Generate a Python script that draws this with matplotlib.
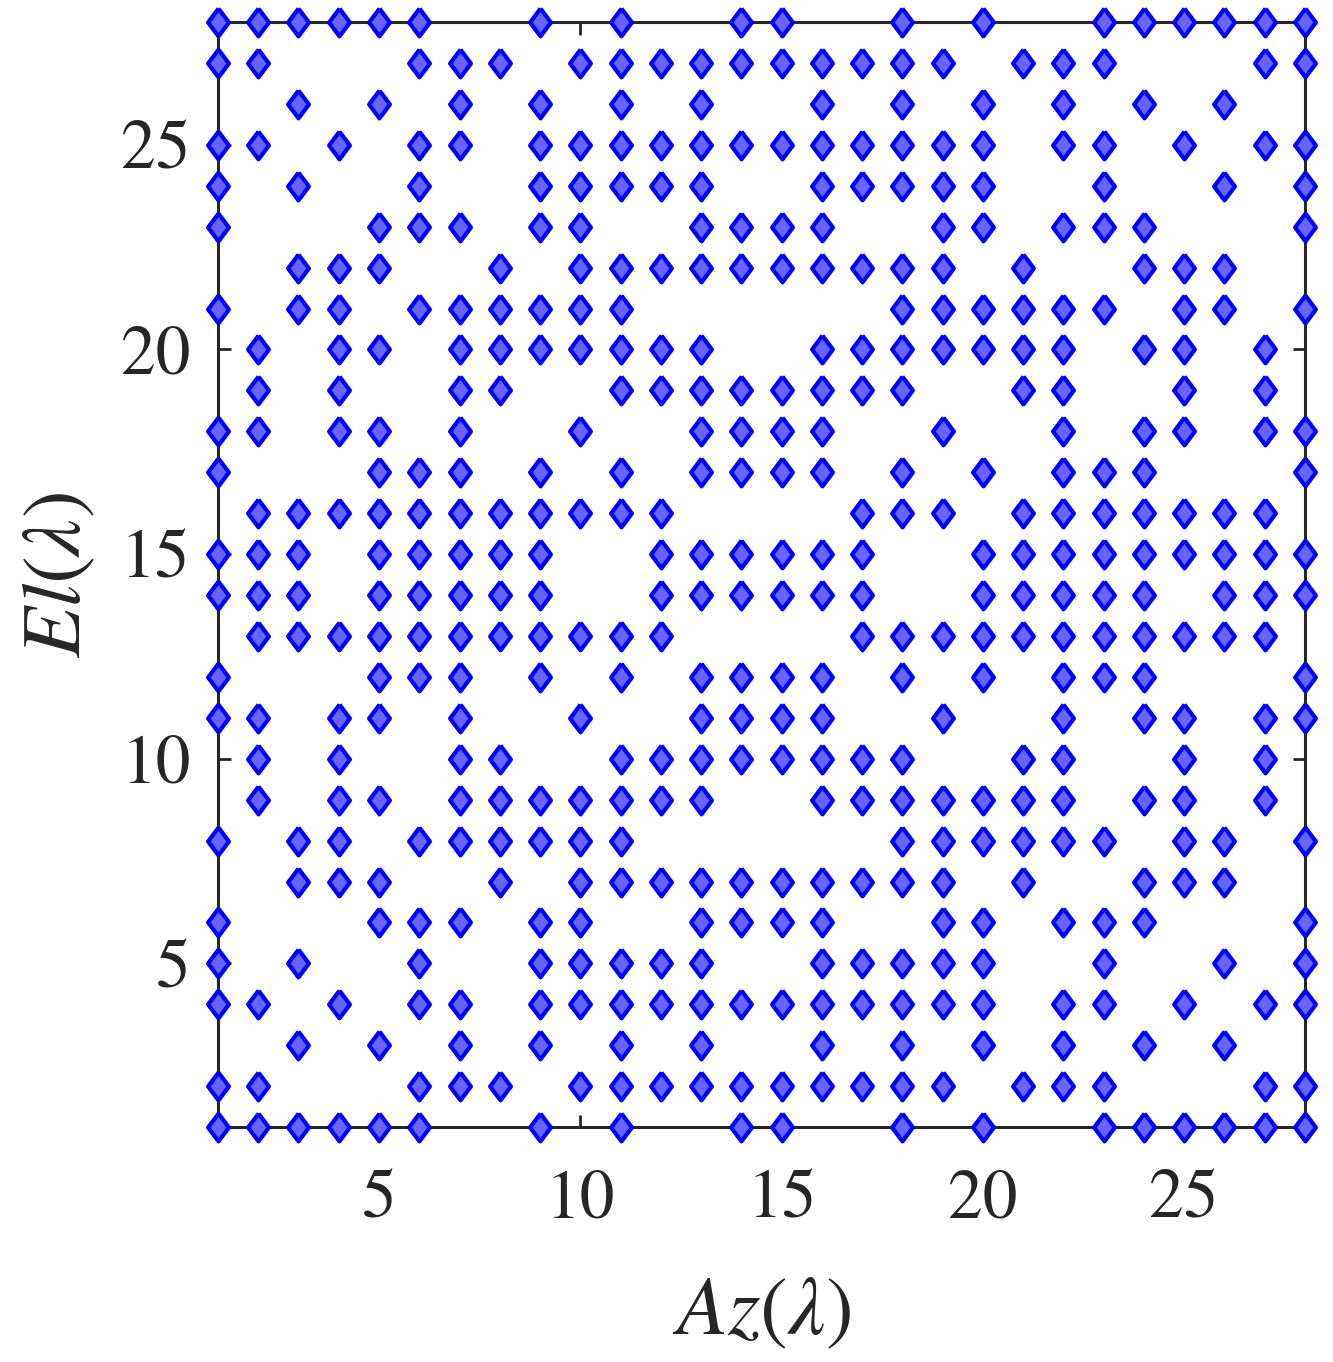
import matplotlib
matplotlib.use("Agg")
import matplotlib.pyplot as plt

# active element positions per elevation row: El -> list of Az indices
el_rows = {
    28: [1, 2, 3, 4, 5, 6, 9, 11, 14, 15, 18, 20, 23, 24, 25, 26, 27, 28],
    27: [1, 2, 6, 7, 8, 10, 11, 12, 13, 14, 15, 16, 17, 18, 19, 21, 22, 23, 27, 28],
    26: [3, 5, 7, 9, 11, 13, 16, 18, 20, 22, 24, 26],
    25: [1, 2, 4, 6, 7, 9, 10, 11, 12, 13, 14, 15, 16, 17, 18, 19, 20, 22, 23, 25, 27, 28],
    24: [1, 3, 6, 9, 10, 11, 12, 13, 16, 17, 18, 19, 20, 23, 26, 28],
    23: [1, 5, 6, 7, 9, 10, 13, 14, 15, 16, 19, 20, 22, 23, 24, 28],
    22: [3, 4, 5, 8, 10, 11, 12, 13, 14, 15, 16, 17, 18, 19, 21, 24, 25, 26],
    21: [1, 3, 4, 6, 7, 8, 9, 10, 11, 18, 19, 20, 21, 22, 23, 25, 26, 28],
    20: [2, 4, 5, 7, 8, 9, 10, 11, 12, 13, 16, 17, 18, 19, 20, 21, 22, 24, 25, 27],
    19: [2, 4, 7, 8, 11, 12, 13, 14, 15, 16, 17, 18, 21, 22, 25, 27],
    18: [1, 2, 4, 5, 7, 10, 13, 14, 15, 16, 19, 22, 24, 25, 27, 28],
    17: [1, 5, 6, 7, 9, 11, 13, 14, 15, 16, 18, 20, 22, 23, 24, 28],
    16: [2, 3, 4, 5, 6, 7, 8, 9, 10, 11, 12, 17, 18, 19, 21, 22, 23, 24, 25, 26, 27],
    15: [1, 2, 3, 5, 6, 7, 8, 9, 12, 13, 14, 15, 16, 17, 20, 21, 22, 23, 24, 25, 26, 27, 28],
    14: [1, 2, 3, 5, 6, 7, 8, 9, 12, 13, 14, 15, 16, 17, 20, 21, 22, 23, 24, 26, 27, 28],
    13: [2, 3, 4, 5, 6, 7, 8, 9, 10, 11, 12, 17, 18, 19, 20, 21, 22, 23, 24, 25, 26, 27],
    12: [1, 5, 6, 7, 9, 11, 13, 14, 15, 16, 18, 20, 22, 23, 24, 28],
    11: [1, 2, 4, 5, 7, 10, 13, 14, 15, 16, 19, 22, 24, 25, 27, 28],
    10: [2, 4, 7, 8, 11, 12, 13, 14, 15, 16, 17, 18, 21, 22, 25, 27],
    9: [2, 4, 5, 7, 8, 9, 10, 11, 12, 13, 16, 17, 18, 19, 20, 21, 22, 24, 25, 27],
    8: [1, 3, 4, 6, 7, 8, 9, 10, 11, 18, 19, 20, 21, 22, 23, 25, 26, 28],
    7: [3, 4, 5, 8, 10, 11, 12, 13, 14, 15, 16, 17, 18, 19, 21, 24, 25, 26],
    6: [1, 5, 6, 7, 9, 10, 13, 14, 15, 16, 19, 20, 22, 23, 24, 28],
    5: [1, 3, 6, 9, 10, 11, 12, 13, 16, 17, 18, 19, 20, 23, 26, 28],
    4: [1, 2, 4, 6, 7, 9, 10, 11, 12, 13, 14, 15, 16, 17, 18, 19, 20, 22, 23, 25, 27, 28],
    3: [3, 5, 7, 9, 11, 13, 16, 18, 20, 22, 24, 26],
    2: [1, 2, 6, 7, 8, 10, 11, 12, 13, 14, 15, 16, 17, 18, 19, 21, 22, 23, 27, 28],
    1: [1, 2, 3, 4, 5, 6, 9, 11, 14, 15, 18, 20, 23, 24, 25, 26, 27, 28],
}
ticks = [5, 10, 15, 20, 25]

az = []
el = []
for e, cols in el_rows.items():
    for a in cols:
        az.append(a)
        el.append(e)

plt.rcParams['font.family'] = ['STIXGeneral', 'DejaVu Serif']
plt.rcParams['mathtext.fontset'] = 'stix'

txt = '#262626'
fig = plt.figure(figsize=(13.33, 13.62), dpi=100)
ax = fig.add_axes([0.1635, 0.1725, 0.8155, 0.8113])

# matlab-style diamond (taller than wide)
diamond = [(0, 1), (0.75, 0), (0, -1), (-0.75, 0), (0, 1)]
ax.plot(az, el, linestyle='none', marker=diamond, markersize=20,
        markerfacecolor='#6666ff', markeredgecolor='#0000ff',
        markeredgewidth=3, clip_on=False, zorder=5)

ax.set_xlim(1, 28)
ax.set_ylim(1, 28)
ax.set_xticks(ticks)
ax.set_yticks(ticks)
for s in ax.spines.values():
    s.set_linewidth(2.2)
    s.set_color(txt)
ax.tick_params(direction='in', length=9, width=2, colors=txt,
               labelsize=50, top=True, right=True)
ax.tick_params(axis='x', pad=31)
ax.tick_params(axis='y', pad=20)

ax.set_xlabel(r'$Az(\lambda)$', fontsize=60, color=txt, labelpad=32)
ax.set_ylabel(r'$El(\lambda)$', fontsize=60, color=txt, labelpad=16)

fig.savefig('out.png', dpi=100)
